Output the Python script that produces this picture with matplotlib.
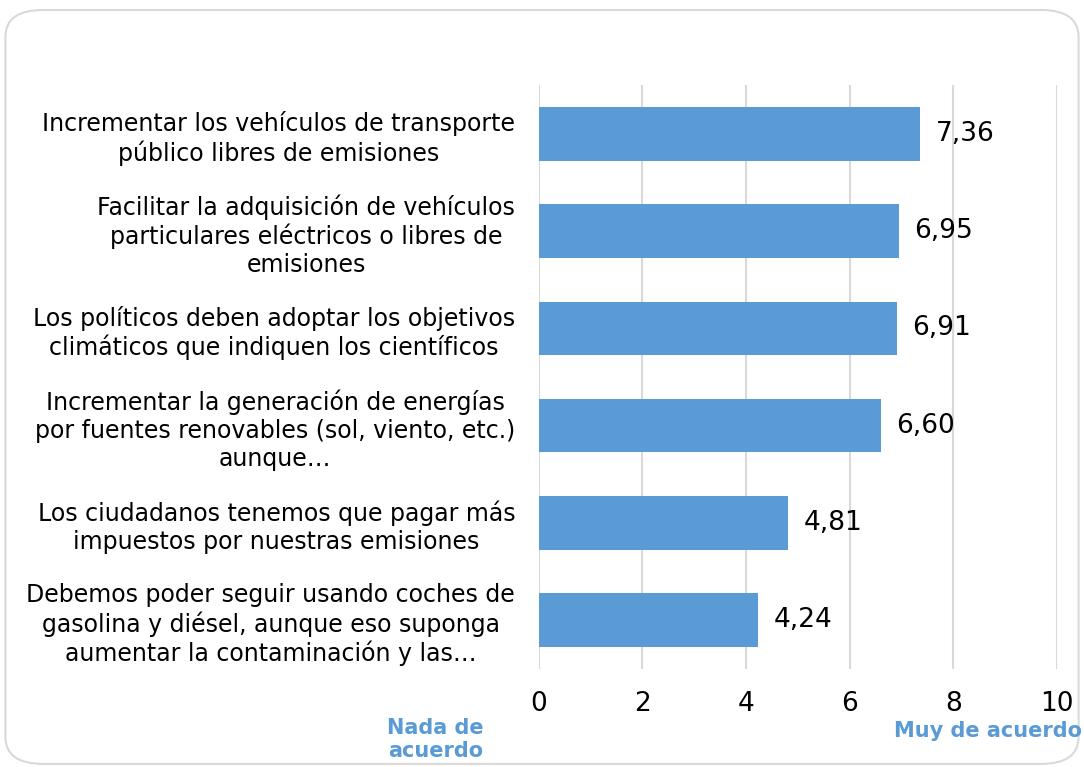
import matplotlib.pyplot as plt
from matplotlib.patches import FancyBboxPatch

categories = [
    "Incrementar los vehículos de transporte\npúblico libres de emisiones",
    "Facilitar la adquisición de vehículos\nparticulares eléctricos o libres de\nemisiones",
    "Los políticos deben adoptar los objetivos\nclimáticos que indiquen los científicos",
    "Incrementar la generación de energías\npor fuentes renovables (sol, viento, etc.)\naunque…",
    "Los ciudadanos tenemos que pagar más\nimpuestos por nuestras emisiones",
    "Debemos poder seguir usando coches de\ngasolina y diésel, aunque eso suponga\naumentar la contaminación y las…",
]
values = [7.36, 6.95, 6.91, 6.60, 4.81, 4.24]
xticks = [0, 2, 4, 6, 8, 10]

blue = "#5B9BD5"
grid_grey = "#D9D9D9"

fig = plt.figure(figsize=(10.84, 7.67), dpi=100)

# rounded frame around the chart
frame = FancyBboxPatch((0.005, 0.004), 0.99, 0.983,
                       boxstyle="round,pad=0,rounding_size=0.035",
                       transform=fig.transFigure, facecolor="white",
                       edgecolor=grid_grey, linewidth=1.5, zorder=-1)
fig.patches.append(frame)

ax = fig.add_axes([0.497, 0.128, 0.478, 0.761])
ax.set_facecolor("none")

pos = list(range(len(categories)))[::-1]
bars = ax.barh(pos, values, height=0.55, color=blue, zorder=3)

ax.set_xlim(0, 10)
ax.set_ylim(-0.5, len(categories) - 0.5)
ax.set_xticks(xticks)
ax.set_xticklabels([str(t) for t in xticks], fontsize=19)
ax.set_yticks(pos)
ax.set_yticklabels(categories, fontsize=17, linespacing=1.2)
for lbl in ax.get_yticklabels():
    lbl.set_multialignment("center")
ax.tick_params(axis="y", length=0, pad=17)
ax.tick_params(axis="x", length=0, pad=16)

ax.grid(axis="x", color=grid_grey, linewidth=1.5, zorder=0)
for s in ax.spines.values():
    s.set_visible(False)

for b, v in zip(bars, values):
    ax.text(b.get_width() + 0.3, b.get_y() + b.get_height() / 2,
            f"{v:.2f}".replace(".", ","), va="center", ha="left", fontsize=19)

fig.text(0.402, 0.036, "Nada de\nacuerdo", color=blue, fontsize=15,
         fontweight="bold", ha="center", va="center", linespacing=1.15)
fig.text(0.998, 0.047, "Muy de acuerdo", color=blue, fontsize=15,
         fontweight="bold", ha="right", va="center")

fig.savefig("out.png", dpi=100)
